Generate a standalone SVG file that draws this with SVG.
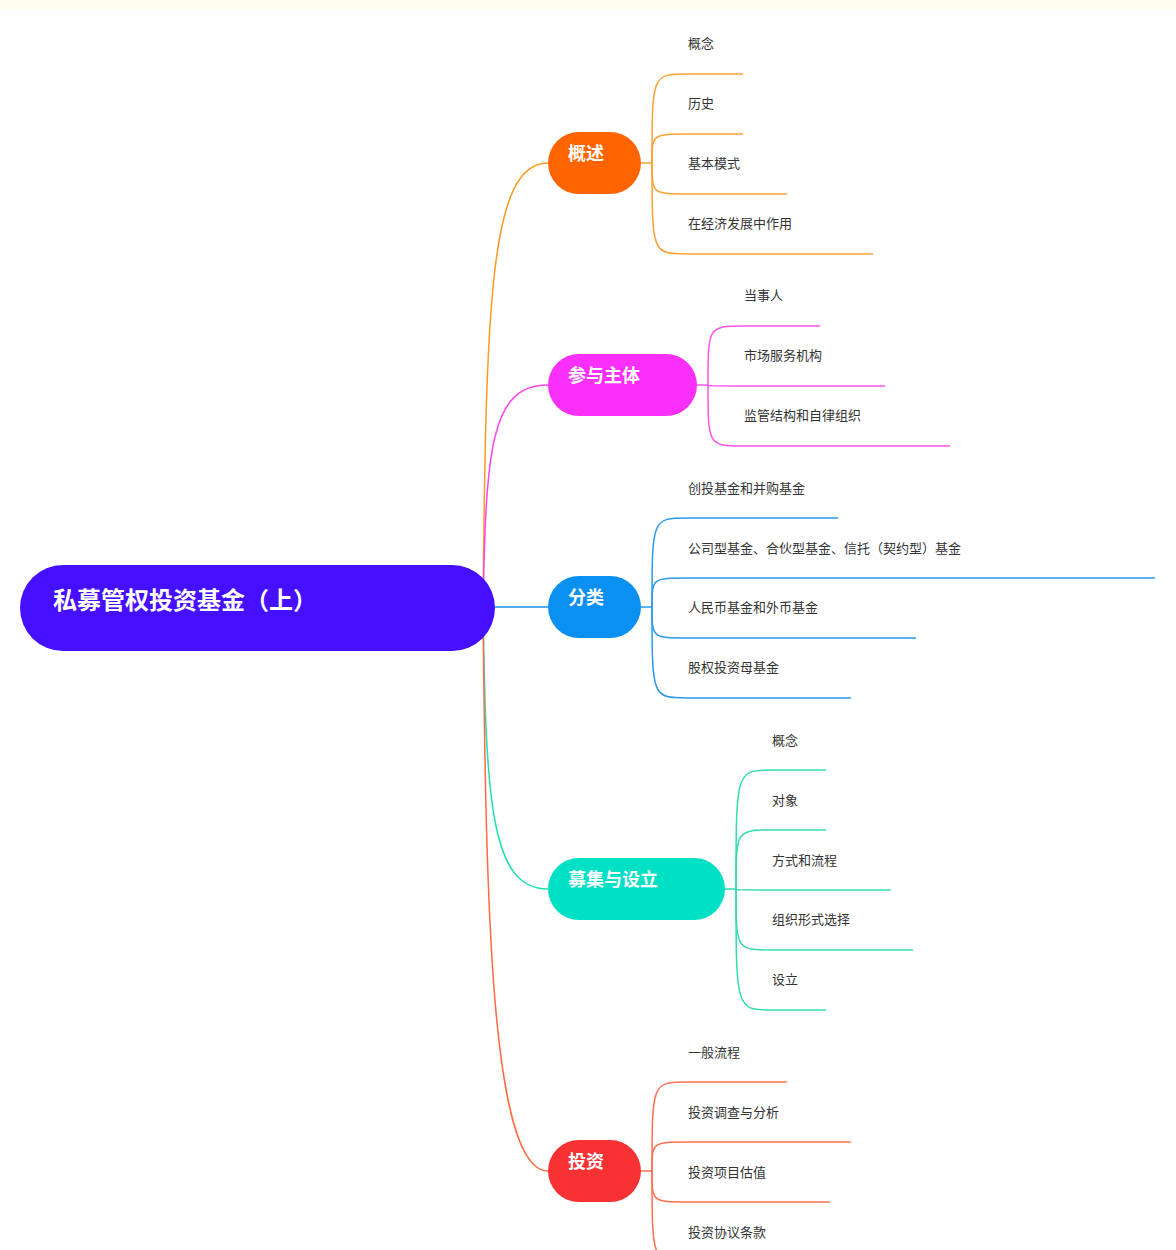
<svg xmlns="http://www.w3.org/2000/svg" width="1176" height="1250" viewBox="0 0 1176 1250">
<style>
text{font-family:"Noto Sans CJK SC","Liberation Sans",sans-serif}
.leaf{font-size:13px;fill:#333}
.main{font-size:18px;font-weight:bold;fill:#fff}
.c{fill:none;stroke-width:1.5}
</style>
<rect width="1176" height="1250" fill="#fff"/>
<rect width="1176" height="10" fill="#fffdf0"/>
<g id="connectors">
<path class="c" stroke="#ff9a20" d="M483,608 C486,300 490,163 548,163"/>
<path class="c" stroke="#ff44ee" d="M483,608 C486,450 490,385 548,385"/>
<path class="c" stroke="#1a90f0" d="M495,607 H548"/>
<path class="c" stroke="#20e0b0" d="M483,608 C486,800 490,889 548,889"/>
<path class="c" stroke="#ff6a40" d="M483,608 C486,900 490,1171 548,1171"/>
<g stroke="#ffa030">
<path class="c" d="M641,163 H652"/>
<path class="c" d="M652,163 C652,74 652,74 688,74 H743"/>
<path class="c" d="M652,163 C652,134 652,134 688,134 H743"/>
<path class="c" d="M652,163 C652,194 652,194 688,194 H787"/>
<path class="c" d="M652,163 C652,254 652,254 688,254 H873"/>
</g>
<g stroke="#ff55ee">
<path class="c" d="M697,385 H708"/>
<path class="c" d="M708,385 C708,326 708,326 744,326 H820"/>
<path class="c" d="M708,385 C708,386 708,386 744,386 H885"/>
<path class="c" d="M708,385 C708,446 708,446 744,446 H950"/>
</g>
<g stroke="#2a9ae8">
<path class="c" d="M641,607 H652"/>
<path class="c" d="M652,607 C652,518 652,518 688,518 H838"/>
<path class="c" d="M652,607 C652,578 652,578 688,578 H1155"/>
<path class="c" d="M652,607 C652,638 652,638 688,638 H916"/>
<path class="c" d="M652,607 C652,698 652,698 688,698 H851"/>
</g>
<g stroke="#30dcb0">
<path class="c" d="M725,889 H736"/>
<path class="c" d="M736,889 C736,770 736,770 772,770 H826"/>
<path class="c" d="M736,889 C736,830 736,830 772,830 H826"/>
<path class="c" d="M736,889 C736,890 736,890 772,890 H891"/>
<path class="c" d="M736,889 C736,950 736,950 772,950 H913"/>
<path class="c" d="M736,889 C736,1010 736,1010 772,1010 H826"/>
</g>
<g stroke="#ff7050">
<path class="c" d="M641,1171 H652"/>
<path class="c" d="M652,1171 C652,1082 652,1082 688,1082 H787"/>
<path class="c" d="M652,1171 C652,1142 652,1142 688,1142 H851"/>
<path class="c" d="M652,1171 C652,1202 652,1202 688,1202 H830"/>
<path class="c" d="M652,1171 C652,1262 652,1262 688,1262 H900"/>
</g>
</g>
<g id="root"><rect x="20" y="565" width="475" height="86" rx="43" fill="#4510ff"/><text x="53" y="609" font-size="24" font-weight="bold" fill="#fff">私募管权投资基金（上）</text></g>
<g id="n1"><rect x="548" y="132" width="93" height="62" rx="31" fill="#ff6400"/><text class="main" x="568" y="160">概述</text></g>
<g id="n2"><rect x="548" y="354" width="149" height="62" rx="31" fill="#fa30fa"/><text class="main" x="568" y="382">参与主体</text></g>
<g id="n3"><rect x="548" y="576" width="93" height="62" rx="31" fill="#0a90f0"/><text class="main" x="568" y="604">分类</text></g>
<g id="n4"><rect x="548" y="858" width="177" height="62" rx="31" fill="#00e0c4"/><text class="main" x="568" y="886">募集与设立</text></g>
<g id="n5"><rect x="548" y="1140" width="93" height="62" rx="31" fill="#f83232"/><text class="main" x="568" y="1168">投资</text></g>
<g id="leaves">
<text class="leaf" x="688" y="48">概念</text>
<text class="leaf" x="688" y="108">历史</text>
<text class="leaf" x="688" y="168">基本模式</text>
<text class="leaf" x="688" y="228">在经济发展中作用</text>
<text class="leaf" x="744" y="300">当事人</text>
<text class="leaf" x="744" y="360">市场服务机构</text>
<text class="leaf" x="744" y="420">监管结构和自律组织</text>
<text class="leaf" x="688" y="493">创投基金和并购基金</text>
<text class="leaf" x="688" y="553">公司型基金、合伙型基金、信托（契约型）基金</text>
<text class="leaf" x="688" y="612">人民币基金和外币基金</text>
<text class="leaf" x="688" y="672">股权投资母基金</text>
<text class="leaf" x="772" y="745">概念</text>
<text class="leaf" x="772" y="805">对象</text>
<text class="leaf" x="772" y="865">方式和流程</text>
<text class="leaf" x="772" y="924">组织形式选择</text>
<text class="leaf" x="772" y="984">设立</text>
<text class="leaf" x="688" y="1057">一般流程</text>
<text class="leaf" x="688" y="1117">投资调查与分析</text>
<text class="leaf" x="688" y="1177">投资项目估值</text>
<text class="leaf" x="688" y="1237">投资协议条款</text>
</g>
</svg>
